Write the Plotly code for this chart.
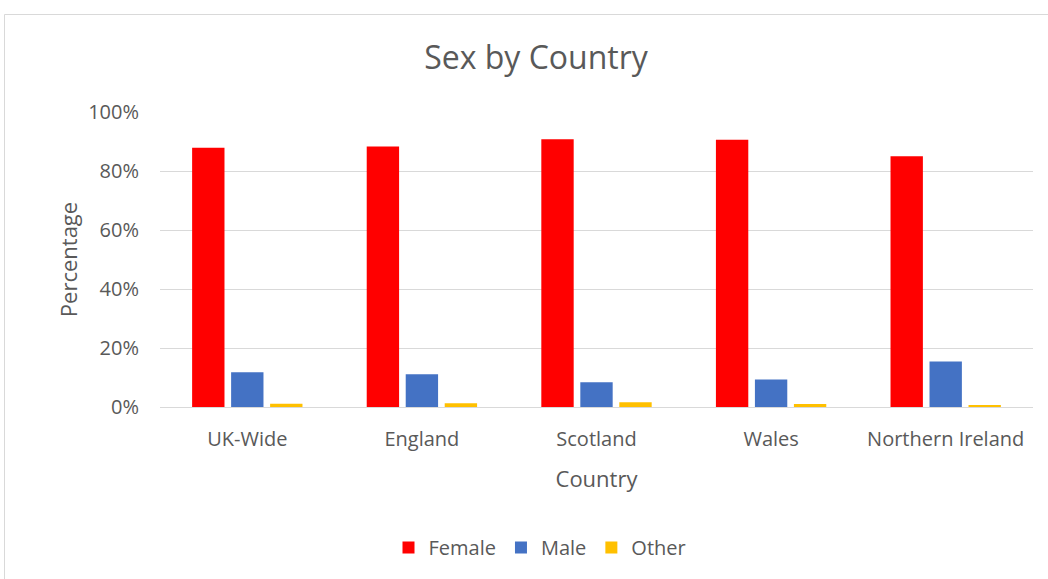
import plotly.graph_objects as go

countries = ["UK-Wide", "England", "Scotland", "Wales", "Northern Ireland"]
female = [87.9, 88.3, 90.8, 90.6, 85.0]
male = [11.8, 11.1, 8.4, 9.3, 15.4]
other = [1.1, 1.3, 1.6, 1.0, 0.7]

series = [("Female", female, "#FF0000"), ("Male", male, "#4472C4"), ("Other", other, "#FFC000")]

fig = go.Figure()
for name, vals, col in series:
    fig.add_trace(go.Bar(x=countries, y=vals, name=name, marker=dict(color=col, line=dict(width=0))))

L, R, T, B = 160, 15, 112, 169
W, H = 1048, 579
pw, ph = W - L - R, H - T - B

fig.update_layout(
    width=W, height=H,
    margin=dict(l=L, r=R, t=T, b=B),
    paper_bgcolor="white", plot_bgcolor="white",
    font=dict(family="Open Sans", color="#595959"),
    title=dict(text="Sex by Country", x=536 / W, xanchor="center", y=1 - 58 / H, yanchor="middle",
               font=dict(size=32, color="#595959")),
    barmode="group", bargap=0.33, bargroupgap=0.17,
    xaxis=dict(title=dict(text="Country", font=dict(size=22), standoff=20),
               tickfont=dict(size=20), showgrid=False, showline=True, linecolor="#d9d9d9",
               ticks="", ticklabelstandoff=14),
    yaxis=dict(title=dict(text="Percentage", font=dict(size=22), standoff=4),
               range=[0, 100], dtick=20, ticksuffix="%", tickfont=dict(size=20),
               gridcolor="#d9d9d9", gridwidth=1, zeroline=False, ticks="", ticklen=0,
               ticklabelstandoff=20),
    legend=dict(orientation="h", x=(540 - L) / pw, xanchor="center", y=-(552 - 410) / ph, yanchor="middle",
                font=dict(size=20), itemwidth=30, traceorder="normal"),
    shapes=[dict(type="rect", xref="paper", yref="paper",
                 x0=(4.5 - L) / pw, x1=(W + 20 - L) / pw,
                 y0=-(H + 20 - 410) / ph, y1=(410 - 13.5) / ph,
                 line=dict(color="#d9d9d9", width=1), fillcolor="rgba(0,0,0,0)", layer="below")],
)

fig.write_html("out.html")
